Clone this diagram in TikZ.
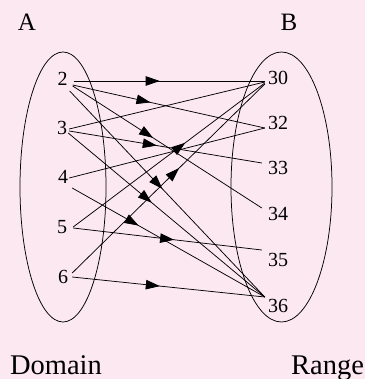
\documentclass[tikz,border=0pt]{standalone}
\usepackage{fontspec}
\setmainfont{Liberation Serif}
\usetikzlibrary{arrows.meta,decorations.markings}
\definecolor{bgpink}{RGB}{252,232,241}
\tikzset{
  num/.style={inner sep=0pt, font=\fontsize{20}{20}\selectfont},
  setlabel/.style={inner sep=0pt, font=\fontsize{25}{25}\selectfont},
  caption/.style={inner sep=0pt, anchor=base, font=\fontsize{28.5}{28.5}\selectfont},
  link/.style={line width=0.75pt},
  midarrow/.style={link, postaction={decorate}, decoration={markings,
     mark=at position #1 with {\arrow{Triangle[length=14pt,width=9.5pt]}}}},
  setoval/.style={line width=0.75pt}
}
\begin{document}
\begin{tikzpicture}[x=1pt,y=-1pt]
\fill[bgpink] (0,0) rectangle (365,379);
\useasboundingbox (0,0) rectangle (365,379);
% ovals
\draw[setoval] (63,187) ellipse [x radius=43, y radius=135];
\draw[setoval] (281.5,187) ellipse [x radius=50.5, y radius=135];
% labels
\node[setlabel] (A) at (27,22.5) {A};
\node[setlabel] (B) at (289,22.5) {B};
\node[caption] (dom) at (56,374) {Domain};
\node[caption] (ran) at (327.5,374) {Range};
% domain elements
\node[num] (n2) at (62.5,78.5) {2};
\node[num] (n3) at (62,128) {3};
\node[num] (n4) at (63,177) {4};
\node[num] (n5) at (62,227) {5};
\node[num] (n6) at (63,277) {6};
% range elements
\node[num] (m30) at (278,78) {30};
\node[num] (m32) at (278,123) {32};
\node[num] (m33) at (278,168) {33};
\node[num] (m34) at (278,214) {34};
\node[num] (m35) at (278,260) {35};
\node[num] (m36) at (278,306) {36};
% connectors
\draw[midarrow=0.45]  ([shift={(6,2.5)}]n2.east) -- ([shift={(-3,3)}]m30.west);
\draw[midarrow=0.405] ([shift={(5,6.5)}]n2.east) -- ([shift={(-3,5)}]m32.west);
\draw[midarrow=0.425] ([shift={(5,7.5)}]n2.east) -- ([shift={(-6,-6)}]m34.west);
\draw[midarrow=0.475] ([shift={(2,12.5)}]n2.east) -- ([shift={(-3,-9)}]m36.west);
\draw[link]           ([shift={(2,1)}]n3.east) -- ([shift={(-3,4)}]m30.west);
\draw[midarrow=0.455] ([shift={(2,3)}]n3.east) -- ([shift={(-6,-5)}]m33.west);
\draw[midarrow=0.425] ([shift={(1,5)}]n3.east) -- ([shift={(-3,-9)}]m36.west);
\draw[link]           ([shift={(1,1)}]n4.east) -- ([shift={(-3,5)}]m32.west);
\draw[midarrow=0.345] ([shift={(4,11)}]n4.east) -- ([shift={(-3,-9)}]m36.west);
\draw[midarrow=0.585] ([shift={(6,0)}]n5.east) -- ([shift={(-3,5)}]m30.west);
\draw[midarrow=0.535] ([shift={(6,1)}]n5.east) -- ([shift={(-6,-10)}]m35.west);
\draw[midarrow=0.555] ([shift={(4,-4)}]n6.east) -- ([shift={(-3,6)}]m30.west);
\draw[midarrow=0.455] ([shift={(4,0)}]n6.east) -- ([shift={(-3,-9)}]m36.west);
\end{tikzpicture}
\end{document}
